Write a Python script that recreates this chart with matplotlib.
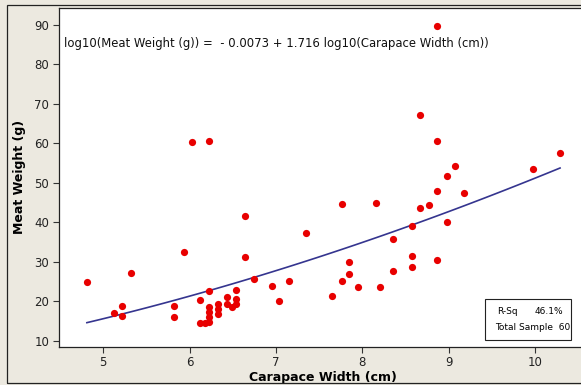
import numpy as np
import matplotlib
matplotlib.use('Agg')
import matplotlib.pyplot as plt
from matplotlib.patches import Rectangle

# carapace width (cm) and meat weight (g)
width_cm = [4.81, 5.12, 5.22, 5.22, 5.32, 5.82, 5.82, 5.93, 6.03, 6.23,
            6.12, 6.12, 6.18, 6.23, 6.23, 6.23, 6.23, 6.23, 6.33, 6.33,
            6.33, 6.43, 6.43, 6.49, 6.54, 6.54, 6.54, 6.64, 6.64, 6.74,
            6.95, 7.04, 7.15, 7.35, 7.65, 7.76, 7.76, 7.85, 7.85, 7.95,
            8.16, 8.21, 8.36, 8.36, 8.57, 8.57, 8.57, 8.67, 8.77, 8.87,
            8.67, 8.87, 9.07, 8.98, 8.87, 9.18, 8.98, 8.87, 9.98, 10.29]
weight_g = [24.9, 16.9, 18.7, 16.3, 27.1, 18.9, 16.1, 32.5, 60.3, 60.6,
            20.3, 14.4, 14.6, 14.8, 22.6, 18.5, 17.3, 16.1, 19.3, 18.1,
            16.8, 21.0, 19.3, 18.6, 22.9, 20.6, 19.2, 41.6, 31.3, 25.5,
            23.9, 20.0, 25.2, 37.3, 21.4, 44.7, 25.0, 30.0, 27.0, 23.7,
            44.9, 23.7, 35.8, 27.6, 39.1, 31.5, 28.7, 43.7, 44.4, 89.7,
            67.1, 60.6, 54.3, 51.8, 48.0, 47.5, 40.0, 30.3, 53.5, 57.6]

# fitted model shown on the chart
intercept = -0.0073
slope = 1.716
r_sq = '46.1%'
n_total = 60

x_ticks = [5, 6, 7, 8, 9, 10]
y_ticks = [10, 20, 30, 40, 50, 60, 70, 80, 90]

bg = '#ECE9E0'
fig = plt.figure(figsize=(5.81, 3.85), dpi=100, facecolor=bg)
W, H = 581.0, 385.0

# outer frame of the graph window
fig.patches.append(Rectangle((7 / W, 2 / H), 1.0, 1 - 7 / H, transform=fig.transFigure,
                             fill=False, edgecolor='#222222', linewidth=0.9))

ax = fig.add_axes([59 / W, 1 - 346.7 / H, 1 - 59 / W + 0.01, (346.7 - 8) / H])
ax.set_facecolor('white')

xs = np.linspace(min(width_cm), max(width_cm), 100)
fit = 10 ** (intercept + slope * np.log10(xs))
ax.plot(xs, fit, color='#35358F', linewidth=1.2, zorder=2)
ax.plot(width_cm, weight_g, 'o', color='#E80000', markersize=5.2,
        markeredgewidth=0, zorder=3)

ax.set_xlim(4.487, 10.6)
ax.set_ylim(8.48, 94.2)
ax.set_xticks(x_ticks)
ax.set_yticks(y_ticks)
ax.tick_params(direction='out', length=4, width=0.8, colors='#333333',
               labelsize=8.5, labelcolor='#222222', pad=3)
for s in ['top', 'left', 'bottom']:
    ax.spines[s].set_linewidth(0.9)
    ax.spines[s].set_color('#222222')
ax.spines['right'].set_visible(False)

ax.set_xlabel('Carapace Width (cm)', fontsize=9, fontweight='bold', labelpad=1)
ax.set_ylabel('Meat Weight (g)', fontsize=9, fontweight='bold', labelpad=6)

ax.text(64 / W, 1 - 44 / H,
        'log10(Meat Weight (g)) =  - 0.0073 + 1.716 log10(Carapace Width (cm))',
        transform=fig.transFigure, fontsize=8.4, va='center', ha='left', color='#111111')

# summary box
fig.patches.append(Rectangle((485 / W, 1 - 340 / H), 86 / W, 40.7 / H,
                             transform=fig.transFigure, facecolor='white',
                             edgecolor='#222222', linewidth=0.8, zorder=5))
fig.text(497 / W, 1 - 311 / H, 'R-Sq', fontsize=6.5, va='center', zorder=6)
fig.text(535 / W, 1 - 311 / H, r_sq, fontsize=6.5, va='center', zorder=6)
fig.text(495 / W, 1 - 327 / H, 'Total Sample  %d' % n_total, fontsize=6.5,
         va='center', zorder=6)

fig.savefig('out.png', dpi=100, facecolor=bg)
